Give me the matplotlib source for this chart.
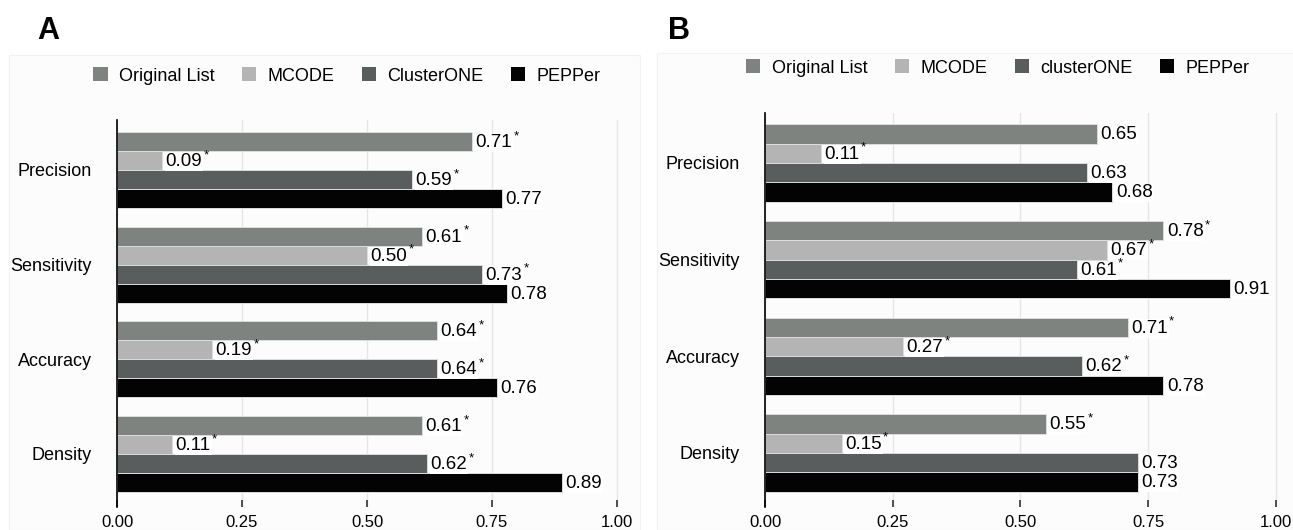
import matplotlib
matplotlib.use("Agg")
import matplotlib.pyplot as plt
from matplotlib.patches import Rectangle, Patch
import numpy as np

plt.rcParams['font.family'] = ['Liberation Sans', 'DejaVu Sans']

categories = ["Precision", "Sensitivity", "Accuracy", "Density"]
methods_a = ["Original List", "MCODE", "ClusterONE", "PEPPer"]
methods_b = ["Original List", "MCODE", "clusterONE", "PEPPer"]
colors = ["#7e8380", "#b4b4b4", "#5a5d5d", "#030303"]

# panel A values (rows = categories, columns = methods)
orig_a = [0.71, 0.61, 0.64, 0.61]
mcode_a = [0.09, 0.50, 0.19, 0.11]
cone_a = [0.59, 0.73, 0.64, 0.62]
pepper_a = [0.77, 0.78, 0.76, 0.89]
star_a = [[1, 1, 1, 0], [1, 1, 1, 0], [1, 1, 1, 0], [1, 1, 1, 0]]

# panel B values
orig_b = [0.65, 0.78, 0.71, 0.55]
mcode_b = [0.11, 0.67, 0.27, 0.15]
cone_b = [0.63, 0.61, 0.62, 0.73]
pepper_b = [0.68, 0.91, 0.78, 0.73]
star_b = [[0, 1, 0, 0], [1, 1, 1, 0], [1, 1, 1, 0], [1, 1, 0, 0]]

W, H = 1293, 530
fig = plt.figure(figsize=(W / 100, H / 100), dpi=100)

# faint panel backgrounds
fig.patches.append(Rectangle((9 / W, 0), (640 - 9) / W, 1 - 55 / H, transform=fig.transFigure,
                             facecolor="#fcfcfc", edgecolor="#f2f2f2", lw=0.8, zorder=-5))
fig.patches.append(Rectangle((657 / W, 0), (W - 657) / W, 1 - 53 / H, transform=fig.transFigure,
                             facecolor="#fcfcfc", edgecolor="#f2f2f2", lw=0.8, zorder=-5))


def draw_panel(rect, series, names, stars, ylim, legend_xy, letter, letter_xy):
    ax = fig.add_axes(rect)
    ax.set_facecolor("none")
    y = np.arange(len(categories))[::-1]
    offsets = [0.3, 0.1, -0.1, -0.3]
    for j, vals in enumerate(series):
        bars = ax.barh(y + offsets[j], vals, height=0.2, color=colors[j],
                       edgecolor="#dcdcdc", linewidth=0.7, label=names[j], zorder=2)
        for i, b in enumerate(bars):
            t = ax.annotate(f"{vals[i]:.2f}", xy=(b.get_width(), b.get_y() + b.get_height() / 2),
                            xytext=(2.5, -0.7), textcoords="offset points", ha="left", va="center",
                            fontsize=13.5, zorder=4,
                            bbox=dict(boxstyle="square,pad=0.05", fc="white", ec="none"))
            if stars[i][j]:
                ax.annotate("*", xy=(1, 1), xycoords=t, xytext=(1.0, -1.5),
                            textcoords="offset points", ha="left", va="center",
                            fontsize=9.5, zorder=5)
    ax.set_xlim(0, 1.02)
    ax.set_ylim(*ylim)
    ax.set_xticks([0, 0.25, 0.5, 0.75, 1.0])
    ax.set_xticklabels(["0.00", "0.25", "0.50", "0.75", "1.00"], fontsize=12)
    ax.set_yticks(y)
    ax.set_yticklabels(categories, fontsize=13)
    ax.tick_params(axis="y", length=0, pad=18)
    ax.tick_params(axis="x", direction="in", length=5, width=1.2, color="#333333", pad=6)
    ax.grid(axis="x", color="#e6e6e6", lw=1)
    ax.set_axisbelow(True)
    for s in ["top", "right", "bottom"]:
        ax.spines[s].set_visible(False)
    ax.spines["left"].set_linewidth(1.2)
    handles = [Patch(facecolor=c, edgecolor="none") for c in colors]
    ax.legend(handles, names, loc="center", bbox_to_anchor=legend_xy,
              bbox_transform=fig.transFigure, ncol=4, frameon=False, fontsize=13,
              handlelength=0.78, handleheight=0.78, handletextpad=0.65,
              columnspacing=1.5)
    fig.text(letter_xy[0], letter_xy[1], letter, fontsize=22, fontweight="bold",
             ha="left", va="center")
    return ax


draw_panel([117 / W, 23 / H, 510 / W, (507 - 120) / H],
           [orig_a, mcode_a, cone_a, pepper_a], methods_a, star_a,
           (-0.56, 3.528), (347 / W, 1 - 76 / H), "A", (37 / W, 1 - 31 / H))
draw_panel([765 / W, 23 / H, 521 / W, (507 - 113) / H],
           [orig_b, mcode_b, cone_b, pepper_b], methods_b, star_b,
           (-0.559, 3.517), (998 / W, 1 - 68 / H), "B", (668 / W, 1 - 31 / H))

fig.savefig("out.png", dpi=100)
